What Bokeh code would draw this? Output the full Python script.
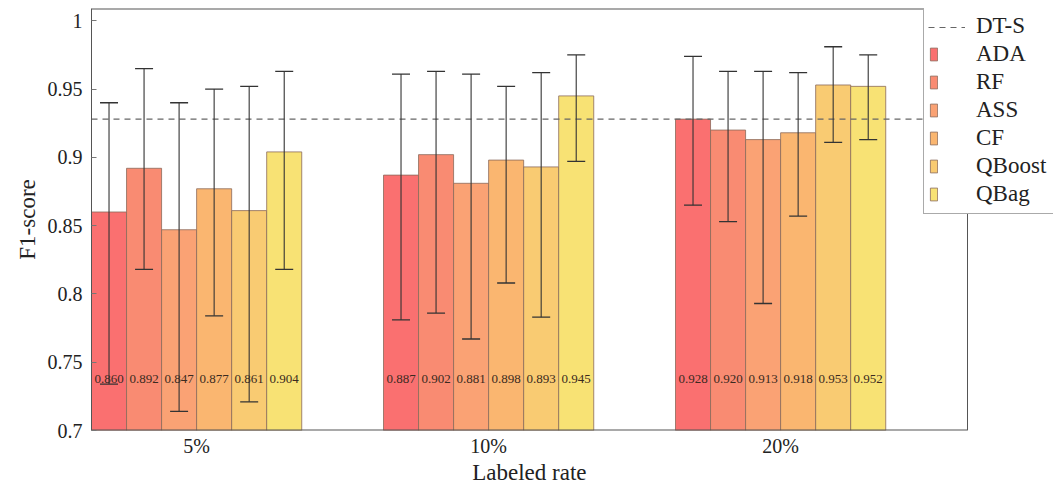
from bokeh.plotting import figure
from bokeh.models import (ColumnDataSource, Range1d, FixedTicker, NumeralTickFormatter,
                          Whisker, TeeHead, Legend, LegendItem)
from bokeh.core.properties import value
from bokeh.embed import file_html
from bokeh.resources import INLINE

# ---------------- data ----------------
rates = ["5%", "10%", "20%"]
methods = ["ADA", "RF", "ASS", "CF", "QBoost", "QBag"]

ada = [0.860, 0.887, 0.928]
rf = [0.892, 0.902, 0.920]
ass = [0.847, 0.881, 0.913]
cf = [0.877, 0.898, 0.918]
qboost = [0.861, 0.893, 0.953]
qbag = [0.904, 0.945, 0.952]

ada_hi = [0.940, 0.961, 0.974]
rf_hi = [0.965, 0.963, 0.963]
ass_hi = [0.940, 0.961, 0.963]
cf_hi = [0.950, 0.952, 0.962]
qboost_hi = [0.952, 0.962, 0.981]
qbag_hi = [0.963, 0.975, 0.975]

ada_lo = [0.734, 0.781, 0.865]
rf_lo = [0.818, 0.786, 0.853]
ass_lo = [0.714, 0.767, 0.793]
cf_lo = [0.784, 0.808, 0.857]
qboost_lo = [0.721, 0.783, 0.911]
qbag_lo = [0.818, 0.897, 0.913]

dts = 0.928  # DT-S reference F1-score

y_ticks = [0.7, 0.75, 0.8, 0.85, 0.9, 0.95, 1.0]

# ---------------- styling ----------------
colors = ["#FA7070", "#F98B72", "#FAA274", "#FAB670", "#F9CB72", "#F8E274"]
FONT = "Liberation Serif"
Y_MIN, Y_MAX = 0.7, 1.009
X_MIN, X_BOX = -0.36, 2.64          # visible axis box
W, H = 1053, 488
LEFT, RIGHT_BOX, TOP, BOTTOM = 91, 967, 8, 430
X_END = X_MIN + (X_BOX - X_MIN) * (W - LEFT) / (RIGHT_BOX - LEFT)  # frame runs to page edge
BAR_W = 0.12
LABEL_Y = 0.738
EDGE = "#555555"
NBSP = "\u00a0"

means = [ada, rf, ass, cf, qboost, qbag]
highs = [ada_hi, rf_hi, ass_hi, cf_hi, qboost_hi, qbag_hi]
lows = [ada_lo, rf_lo, ass_lo, cf_lo, qboost_lo, qbag_lo]

p = figure(width=W, height=H, output_backend="svg", toolbar_location=None,
           x_range=Range1d(X_MIN, X_END), y_range=Range1d(Y_MIN, Y_MAX),
           min_border_left=LEFT, min_border_right=0, min_border_top=TOP,
           min_border_bottom=H - BOTTOM)
p.background_fill_color = "white"
p.border_fill_color = "white"
p.xgrid.visible = False
p.ygrid.visible = False
p.outline_line_color = None

group_x = list(range(len(rates)))

bar_renderers = []
for i, (name, vals, hi, lo, col) in enumerate(zip(methods, means, highs, lows, colors)):
    xs = [g + (i - 2.5) * BAR_W for g in group_x]
    src = ColumnDataSource(dict(x=xs, top=vals, hi=hi, lo=lo,
                                lab=[f"{v:.3f}" for v in vals],
                                ly=[LABEL_Y] * len(vals)))
    r = p.vbar(x="x", top="top", bottom=Y_MIN, width=BAR_W, source=src,
               fill_color=col, line_color="#8a6a5a", line_width=0.8)
    bar_renderers.append(r)
    p.text(x="x", y="ly", text="lab", source=src, text_align="center",
           text_baseline="middle", text_font=value(FONT), text_font_size="13px",
           text_color="#3a2a20")
    w = Whisker(base="x", upper="hi", lower="lo", source=src, dimension="height",
                level="overlay",
                line_color="#333333", line_width=1.1,
                upper_head=TeeHead(size=18, line_color="#333333", line_width=1.3),
                lower_head=TeeHead(size=18, line_color="#333333", line_width=1.3))
    p.add_layout(w)

dash_src = ColumnDataSource(dict(x=[X_MIN, X_BOX], y=[dts, dts]))
dash = p.line(x="x", y="y", source=dash_src, line_color="#666666",
              line_width=1.2, line_dash="6 5")
ghost = p.line(x="x", y="y", source=dash_src, line_alpha=0)

# axis box (bottom, top, right); left edge is the y axis line
p.segment(x0=[X_MIN, X_MIN, X_BOX], y0=[Y_MIN, Y_MAX, Y_MIN],
          x1=[X_BOX, X_BOX, X_BOX], y1=[Y_MIN, Y_MAX, Y_MAX],
          line_color=EDGE, line_width=[2, 2, 1])

# ---------------- axes ----------------
p.yaxis.ticker = FixedTicker(ticks=y_ticks)
p.yaxis.formatter = NumeralTickFormatter(format="0.[00]")
p.yaxis.major_tick_in = 5
p.yaxis.major_tick_out = 0
p.yaxis.minor_tick_line_color = None
p.yaxis.axis_line_color = EDGE
p.yaxis.major_tick_line_color = "#777777"
p.yaxis.axis_label = "F1-score"
p.yaxis.major_label_standoff = 9
p.yaxis.axis_label_standoff = 5

p.xaxis.ticker = FixedTicker(ticks=group_x)
p.xaxis.major_label_overrides = {g: r for g, r in zip(group_x, rates)}
p.xaxis.major_tick_line_color = None
p.xaxis.minor_tick_line_color = None
p.xaxis.major_tick_in = 0
p.xaxis.major_tick_out = 0
p.xaxis.axis_line_color = None
# the frame runs on under the legend; pad the label so it centres on the axis box
p.xaxis.axis_label = "Labeled rate" + NBSP * 15
p.xaxis.major_label_standoff = 4
p.xaxis.axis_label_standoff = 0

for ax in (p.xaxis[0], p.yaxis[0]):
    ax.major_label_text_font = FONT
    ax.major_label_text_font_size = "20px"
    ax.major_label_text_color = "#222222"
    ax.axis_label_text_font = FONT
    ax.axis_label_text_font_size = "23px"
    ax.axis_label_text_font_style = "normal"
    ax.axis_label_text_color = "#222222"

# ---------------- legends ----------------
ROW = 28
PAD = 5
n_rows = 1 + len(methods)
leg_h_b = 2 * PAD + n_rows * ROW
leg_h_a = 2 * PAD + ROW
frame_h = BOTTOM - TOP
items_b = [LegendItem(label="DT-S", renderers=[ghost])] + [
    LegendItem(label=m, renderers=[r]) for m, r in zip(methods, bar_renderers)]
leg_b = Legend(items=items_b, location=(923 - LEFT, frame_h - leg_h_b),
               orientation="vertical",
               padding=PAD, spacing=0, margin=0, glyph_width=9, glyph_height=16,
               label_height=ROW, label_standoff=38, label_width=95,
               label_text_font=FONT, label_text_font_size="23px",
               label_text_color="#222222",
               border_line_color=EDGE, border_line_width=1,
               background_fill_color="white", background_fill_alpha=1)
p.add_layout(leg_b)

leg_a = Legend(items=[LegendItem(label="DT-S", renderers=[dash])],
               location=(923 - LEFT, frame_h - leg_h_a), orientation="vertical",
               padding=PAD, spacing=0, margin=0, glyph_width=37, glyph_height=16,
               label_height=ROW, label_standoff=10,
               label_text_font=FONT, label_text_font_size="23px",
               label_text_alpha=0,
               border_line_alpha=0, background_fill_alpha=0)
p.add_layout(leg_a)

open("out.html", "w").write(file_html(p, INLINE))
